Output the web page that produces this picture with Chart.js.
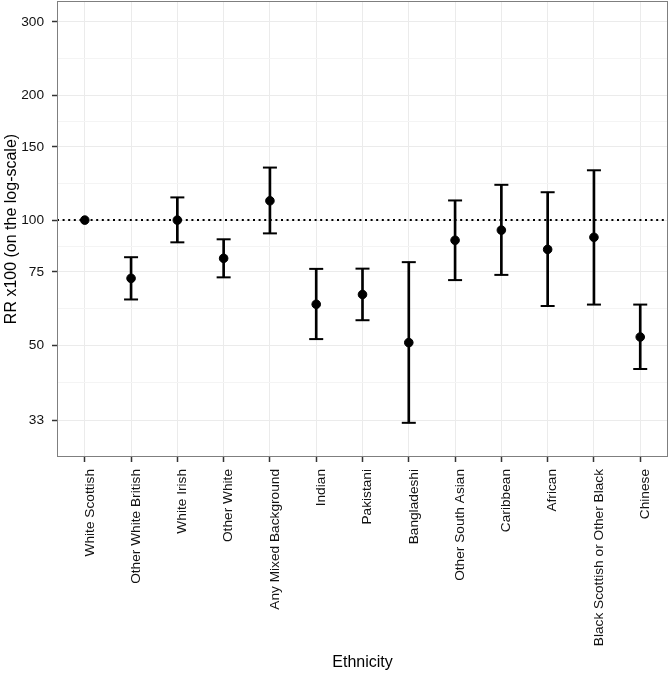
<!DOCTYPE html>
<html>
<head>
<meta charset="utf-8">
<script src="https://cdn.jsdelivr.net/npm/chart.js@4.4.0/dist/chart.umd.min.js"></script>
<style>
  html, body { margin: 0; padding: 0; background: #fff; }
  #wrap { width: 670px; height: 674px; }
</style>
</head>
<body>
<div id="wrap"><canvas id="chart"></canvas></div>
<script>
const categories = ['White Scottish', 'Other White British', 'White Irish', 'Other White',
  'Any Mixed Background', 'Indian', 'Pakistani', 'Bangladeshi', 'Other South Asian',
  'Caribbean', 'African', 'Black Scottish or Other Black', 'Chinese'];
const rr    = [100, 72.4, 100, 80.9, 111.3, 62.7, 66.2, 50.7, 89.4, 94.6, 85.0, 90.9, 52.3];
const lower = [null, 64.4, 88.4, 72.8, 92.9, 51.7, 57.4, 32.5, 71.7, 73.8, 62.1, 62.6, 43.8];
const upper = [null, 81.4, 113.4, 89.9, 133.8, 76.3, 76.4, 79.2, 111.5, 121.6, 116.7, 131.8, 62.6];
const yTicks = [33, 50, 75, 100, 150, 200, 300];
const refLine = 100;

// minor grid lines sit halfway between the breaks on the log scale
const yMinor = yTicks.slice(1).map((v, i) => Math.sqrt(v * yTicks[i]));

const xs = categories.map((c, i) => i + 1);
const withCi = xs.filter((x, i) => lower[i] != null);

const fontFamily = '"Liberation Sans", Arial, sans-serif';

const noPadding = s => {
  s.paddingLeft = 0; s.paddingRight = 0; s.paddingTop = 0; s.paddingBottom = 0;
};

const panelBorder = {
  id: 'panelBorder',
  afterDraw(chart) {
    const { ctx, chartArea: a } = chart;
    ctx.save();
    ctx.strokeStyle = '#7f7f7f';
    ctx.lineWidth = 1;
    ctx.strokeRect(a.left + 0.5, a.top + 0.5, a.right - a.left - 1, a.bottom - a.top - 1);
    ctx.restore();
  }
};

new Chart(document.getElementById('chart'), {
  type: 'scatter',
  data: {
    datasets: [
      {
        label: 'RR',
        data: xs.map((x, i) => ({ x, y: rr[i] })),
        backgroundColor: '#000',
        borderColor: '#000',
        pointRadius: 4.3,
        order: 0
      },
      {
        label: 'upper',
        data: withCi.map(x => ({ x, y: upper[x - 1] })),
        pointStyle: 'line',
        pointRadius: 7,
        borderColor: '#000',
        borderWidth: 2,
        order: 1
      },
      {
        label: 'lower',
        data: withCi.map(x => ({ x, y: lower[x - 1] })),
        pointStyle: 'line',
        pointRadius: 7,
        borderColor: '#000',
        borderWidth: 2,
        order: 1
      },
      {
        type: 'bar',
        label: 'ci',
        data: withCi.map(x => ({ x, y: [lower[x - 1], upper[x - 1]] })),
        backgroundColor: '#000',
        barThickness: 2,
        grouped: false,
        order: 2
      },
      {
        type: 'line',
        label: 'ref',
        data: [{ x: 0.4, y: refLine }, { x: 13.6, y: refLine }],
        borderColor: '#000',
        borderWidth: 2,
        borderDash: [2, 3.6],
        pointRadius: 0,
        order: 3
      }
    ]
  },
  options: {
    responsive: true,
    maintainAspectRatio: false,
    animation: false,
    layout: { autoPadding: false, padding: { top: 1, right: 2, left: 0, bottom: 0 } },
    plugins: { legend: { display: false }, tooltip: { enabled: false } },
    scales: {
      x: {
        type: 'linear',
        offset: false,
        min: 0.4,
        max: 13.6,
        afterBuildTicks: s => { s.ticks = xs.map(v => ({ value: v })); },
        afterFit: s => { s.height = 217; noPadding(s); },
        grid: { offset: false, color: '#ebebeb', tickColor: '#333', tickLength: 5, tickWidth: 1.5 },
        border: { display: false },
        ticks: {
          autoSkip: false,
          minRotation: 90,
          maxRotation: 90,
          padding: 7,
          labelOffset: 5,
          color: '#111',
          font: { family: fontFamily, size: 13.7 },
          callback: v => categories[v - 1]
        },
        title: {
          display: true,
          text: 'Ethnicity',
          color: '#000',
          font: { family: fontFamily, size: 16 },
          padding: { top: 0, bottom: 2 }
        }
      },
      y: {
        type: 'logarithmic',
        min: 26.89,
        max: 336.9,
        afterBuildTicks: s => { s.ticks = yTicks.map(v => ({ value: v })); },
        afterFit: s => { s.width = 57; noPadding(s); },
        grid: { color: '#ebebeb', tickColor: '#333', tickLength: 5, tickWidth: 1.5 },
        border: { display: false },
        ticks: {
          padding: 8,
          color: '#111',
          font: { family: fontFamily, size: 13.7 },
          callback: v => String(v)
        },
        title: {
          display: true,
          text: 'RR x100 (on the log-scale)',
          color: '#000',
          font: { family: fontFamily, size: 16 },
          padding: { top: 2, bottom: 1 }
        }
      },
      yMinor: {
        type: 'logarithmic',
        position: 'left',
        min: 26.89,
        max: 336.9,
        afterBuildTicks: s => { s.ticks = yMinor.map(v => ({ value: v })); },
        afterFit: s => { s.width = 0; noPadding(s); },
        grid: { color: '#f4f4f4', drawTicks: false },
        border: { display: false },
        ticks: { display: false }
      }
    }
  },
  plugins: [panelBorder]
});
</script>
</body>
</html>
